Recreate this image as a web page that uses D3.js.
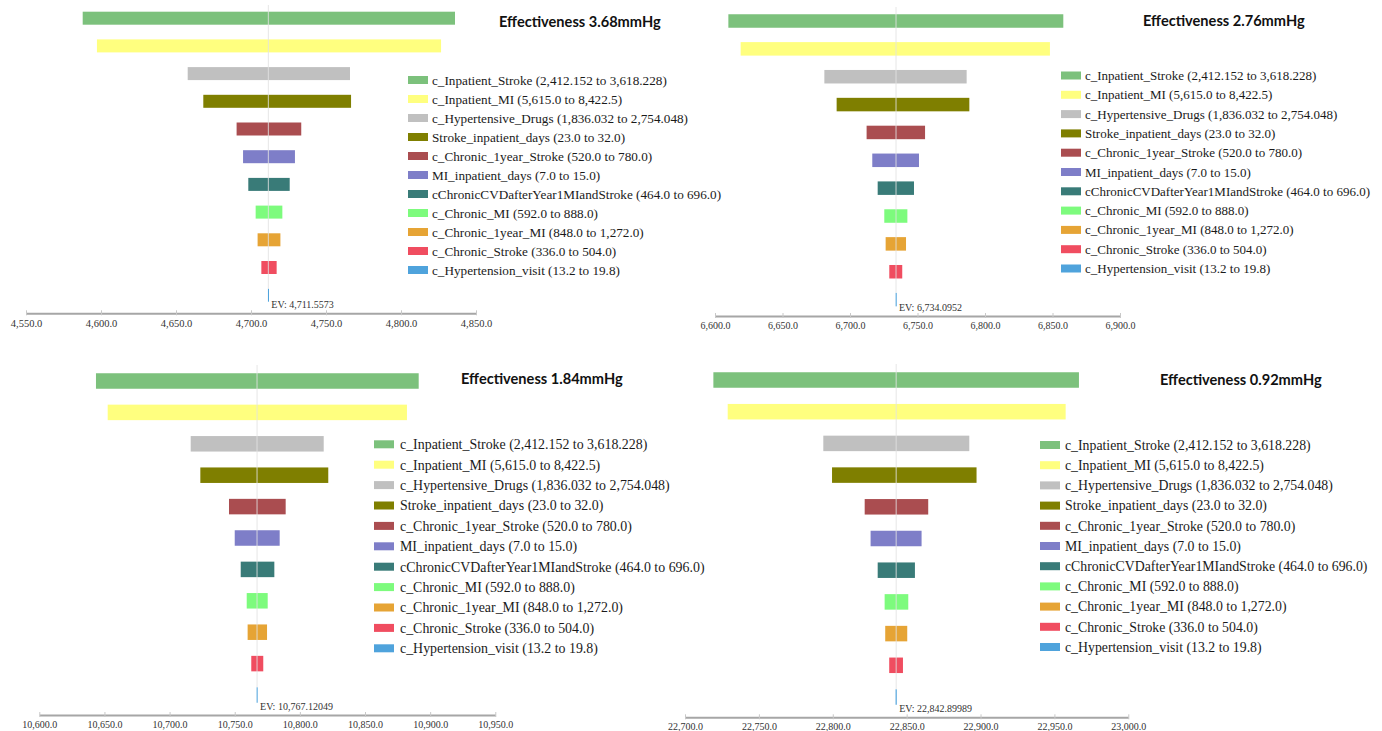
<!DOCTYPE html>
<html>
<head>
<meta charset="utf-8">
<script src="https://cdn.jsdelivr.net/npm/d3@7"></script>
<style>
  html, body { margin: 0; padding: 0; background: #ffffff; }
  svg { display: block; }
</style>
</head>
<body>
<svg id="chart" width="1382" height="731"></svg>
<script>
// Tornado diagrams: one-way sensitivity of expected cost for four effectiveness levels.

const factors = [
  "c_Inpatient_Stroke", "c_Inpatient_MI", "c_Hypertensive_Drugs", "Stroke_inpatient_days",
  "c_Chronic_1year_Stroke", "MI_inpatient_days", "cChronicCVDafterYear1MIandStroke",
  "c_Chronic_MI", "c_Chronic_1year_MI", "c_Chronic_Stroke", "c_Hypertension_visit"
];
const ranges = [
  "(2,412.152 to 3,618.228)", "(5,615.0 to 8,422.5)", "(1,836.032 to 2,754.048)", "(23.0 to 32.0)",
  "(520.0 to 780.0)", "(7.0 to 15.0)", "(464.0 to 696.0)",
  "(592.0 to 888.0)", "(848.0 to 1,272.0)", "(336.0 to 504.0)", "(13.2 to 19.8)"
];
const colors = [
  "#7cc17c", "#ffff7f", "#c0c0c0", "#7f7f00", "#aa4d50", "#7e7ec8",
  "#397b78", "#7dfb7d", "#e6a435", "#f04d60", "#4fa3dc"
];

const titles = ["Effectiveness 3.68mmHg", "Effectiveness 2.76mmHg", "Effectiveness 1.84mmHg", "Effectiveness 0.92mmHg"];
const evValues = [4711.5573, 6734.0952, 10767.12049, 22842.89989];
const axisDomains = [[4550, 4850], [6600, 6900], [10600, 10950], [22700, 23000]];
const tickStep = 50;

// low / high expected cost for each factor
const low368  = [4587.8, 4597.3, 4657.8, 4668.2, 4690.4, 4694.7, 4698.2, 4703.1, 4704.4, 4706.9, 4711.3];
const high368 = [4836.0, 4826.7, 4766.0, 4766.7, 4733.5, 4729.3, 4725.8, 4720.9, 4719.6, 4717.1, 4712.0];
const low276  = [6609.9, 6619.0, 6681.0, 6690.1, 6712.3, 6716.5, 6720.5, 6725.4, 6726.4, 6729.1, 6733.8];
const high276 = [6858.0, 6848.1, 6786.4, 6788.4, 6755.6, 6751.1, 6747.4, 6742.5, 6741.5, 6738.7, 6734.6];
const low184  = [10643.5, 10652.5, 10716.2, 10723.6, 10745.6, 10750.0, 10754.6, 10759.2, 10759.9, 10762.7, 10766.8];
const high184 = [10891.2, 10882.2, 10818.3, 10821.8, 10789.1, 10784.5, 10780.4, 10775.3, 10774.8, 10771.9, 10767.6];
const low092  = [22719.2, 22728.9, 22793.6, 22799.5, 22821.6, 22825.6, 22830.4, 22835.1, 22835.5, 22838.2, 22842.5];
const high092 = [22966.6, 22957.6, 22892.4, 22897.3, 22864.6, 22860.1, 22855.6, 22851.1, 22850.4, 22847.5, 22843.3];

const lows = [low368, low276, low184, low092];
const highs = [high368, high276, high184, high092];

// panel geometry
const layout = [
  { x0: 26,  x1: 476,    row0: 18.2, rowStep: 27.7,  barH: 13,   top: 5,   axisY: 313.3,
    titleX: 499,  titleY: 27,    legSwX: 408,  legTxX: 432,  legY0: 80,    legStep: 19,   legFont: 13.2, tickFont: 10.5 },
  { x0: 715, x1: 1120,   row0: 21,   rowStep: 27.86, barH: 13.5, top: 7,   axisY: 316,
    titleX: 1143, titleY: 25.5,  legSwX: 1061, legTxX: 1085, legY0: 75.5,  legStep: 19.3, legFont: 13,   tickFont: 10 },
  { x0: 39.3, x1: 495.3, row0: 381,  rowStep: 31.4,  barH: 15.5, top: 365, axisY: 715,
    titleX: 461,  titleY: 383.5, legSwX: 374,  legTxX: 400,  legY0: 444.3, legStep: 20.4, legFont: 13.9, tickFont: 10 },
  { x0: 685, x1: 1128.3, row0: 380,  rowStep: 31.7,  barH: 15.5, top: 364, axisY: 717.3,
    titleX: 1160, titleY: 384.5, legSwX: 1040, legTxX: 1065, legY0: 445,   legStep: 20.2, legFont: 13.8, tickFont: 10 }
];

const svg = d3.select("#chart");
const fmtTick = d3.format(",.1f");
const fmtEV = d3.format(",");

layout.forEach((L, p) => {
  const g = svg.append("g");
  const [d0, d1] = axisDomains[p];
  const x = d3.scaleLinear().domain([d0, d1]).range([L.x0, L.x1]);
  const y = d3.scalePoint().domain(factors).range([L.row0, L.row0 + L.rowStep * (factors.length - 1)]);

  const rows = factors.map((f, i) => ({ f, i, lo: lows[p][i], hi: highs[p][i] }));

  // bars
  g.selectAll("rect.bar").data(rows).enter().append("rect")
    .attr("class", "bar")
    .attr("x", d => x(d.lo))
    .attr("width", d => Math.max(1, x(d.hi) - x(d.lo)))
    .attr("y", d => y(d.f) - L.barH / 2)
    .attr("height", L.barH)
    .attr("fill", d => colors[d.i]);

  // expected value reference line
  const ev = evValues[p];
  g.append("line")
    .attr("x1", x(ev)).attr("x2", x(ev))
    .attr("y1", L.top).attr("y2", y(factors[factors.length - 1]) - L.barH / 2)
    .attr("stroke", "#e2e2e2").attr("stroke-opacity", 0.85).attr("stroke-width", 1);

  g.append("text")
    .attr("x", x(ev) + 3)
    .attr("y", L.axisY - 5.5)
    .attr("font-family", "'Liberation Serif', 'Times New Roman', serif")
    .attr("font-size", 10)
    .attr("fill", "#333")
    .text("EV: " + fmtEV(ev));

  // axis
  const ticks = d3.range(d0, d1 + 0.001, tickStep);
  const axis = d3.axisBottom(x).tickValues(ticks).tickFormat(fmtTick)
    .tickSizeInner(3).tickSizeOuter(0).tickPadding(3);
  const ax = g.append("g").attr("transform", `translate(0,${L.axisY})`).call(axis);
  ax.select(".domain").attr("stroke", "#a6a6a6").attr("stroke-width", 2);
  ax.selectAll(".tick line").attr("stroke", "#c8c8c8").attr("y1", -3).attr("y2", 2);
  ax.selectAll(".tick text")
    .attr("font-family", "'Liberation Serif', 'Times New Roman', serif")
    .attr("font-size", L.tickFont)
    .attr("fill", "#333");

  // title
  g.append("text")
    .attr("x", L.titleX).attr("y", L.titleY)
    .attr("font-family", "Lato, 'Liberation Sans', sans-serif")
    .attr("font-weight", "bold")
    .attr("font-size", 14.6)
    .attr("fill", "#111")
    .text(titles[p]);

  // legend
  const leg = g.selectAll("g.leg").data(rows).enter().append("g")
    .attr("class", "leg")
    .attr("transform", d => `translate(0,${L.legY0 + d.i * L.legStep})`);
  leg.append("rect")
    .attr("x", L.legSwX).attr("y", -4)
    .attr("width", 20).attr("height", 8)
    .attr("fill", d => colors[d.i]);
  leg.append("text")
    .attr("x", L.legTxX).attr("y", 0).attr("dy", "0.35em")
    .attr("font-family", "'Liberation Serif', 'Times New Roman', serif")
    .attr("font-size", L.legFont)
    .attr("fill", "#1a1a1a")
    .text(d => d.f + " " + ranges[d.i]);
});
</script>
</body>
</html>
